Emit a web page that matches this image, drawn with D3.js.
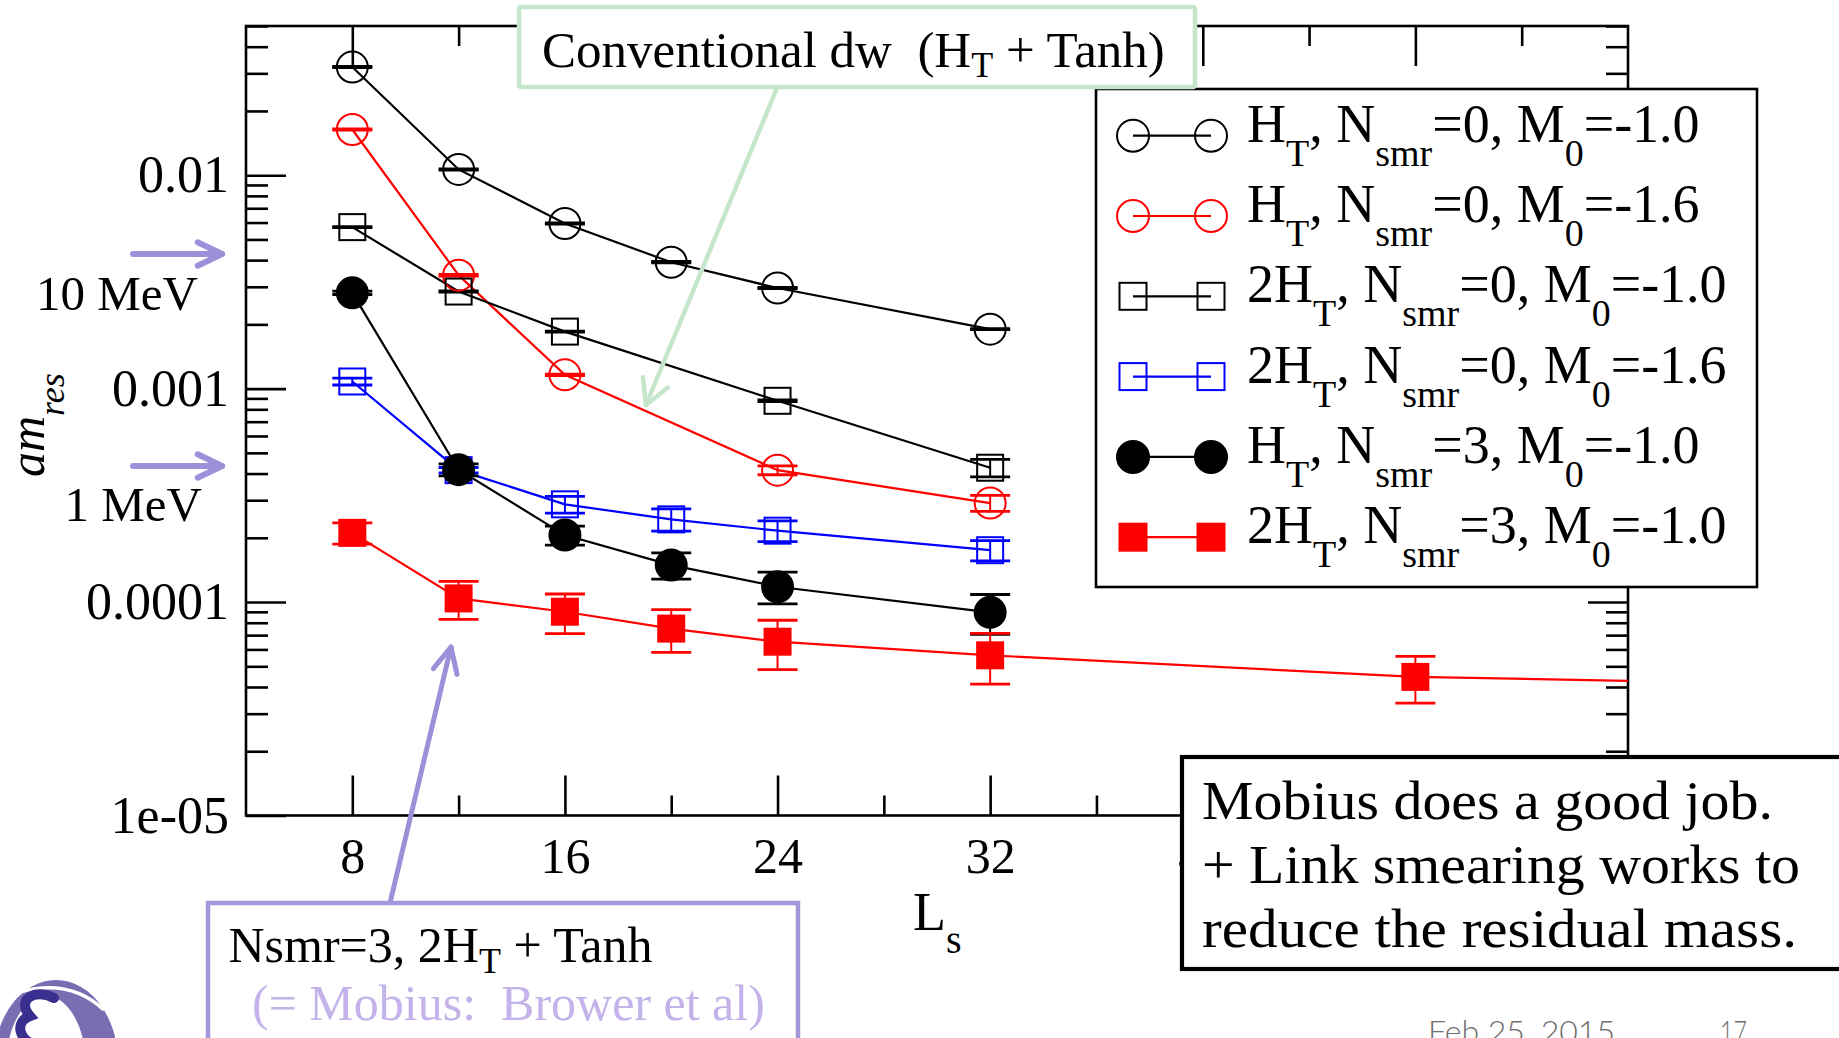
<!DOCTYPE html>
<html>
<head>
<meta charset="utf-8">
<script src="https://cdn.jsdelivr.net/npm/d3@7"></script>
<style>
  body { margin: 0; background: #fff; }
  svg { display: block; }
  text { font-family: "Liberation Serif", "Times New Roman", serif; fill: #000; }
</style>
</head>
<body>
<svg id="chart" width="1839" height="1038"></svg>
<script>
// Residual mass am_res versus fifth-dimension extent L_s for six kernel setups

// H_T, N_smr=0, M_0=-1.0
const lsA   = [8, 12, 16, 20, 24, 32];
const mresA = [0.0321, 0.01064, 0.00594, 0.00391, 0.00296, 0.00190];
const errA  = [0.0002, 0.00007, 0.00004, 0.00003, 0.00002, 0.000012];

// H_T, N_smr=0, M_0=-1.6
const lsB   = [8, 12, 16, 24, 32];
const mresB = [0.01637, 0.00340, 0.00116, 0.000415, 0.000291];
const errB  = [0.0001, 0.00003, 0.00001, 0.00002, 0.000025];

// 2H_T, N_smr=0, M_0=-1.0
const lsC   = [8, 12, 16, 24, 32];
const mresC = [0.00571, 0.00285, 0.00185, 0.000877, 0.000426];
const errC  = [0.00003, 0.00002, 0.00001, 0.000008, 0.00004];

// 2H_T, N_smr=0, M_0=-1.6
const lsD   = [8, 12, 16, 20, 24, 32];
const mresD = [0.00108, 0.000415, 0.000287, 0.000244, 0.000216, 0.000175];
const errD  = [0.00004, 0.000012, 0.000026, 0.000029, 0.000024, 0.000019];

// H_T, N_smr=3, M_0=-1.0
const lsE   = [8, 12, 16, 20, 24, 32];
const mresE = [0.00281, 0.000417, 0.000206, 0.000149, 0.000118, 0.0000895];
const errE  = [0.00005, 0.000027, 0.000021, 0.000021, 0.00002, 0.000019];

// 2H_T, N_smr=3, M_0=-1.0 (Mobius)
const lsF   = [8, 12, 16, 20, 24, 32, 48, 64];
const mresF = [0.000211, 0.000104, 0.0000901, 0.0000751, 0.0000652, 0.0000563, 0.0000446, 0.0000410];
const errF  = [0.000024, 0.000021, 0.000019, 0.000017, 0.000017, 0.000015, 0.000011, 0.00001];

// Legend labels: kernel prefix, N_smr, M_0
const kernelPrefix = ["", "", "2", "2", "", "2"];
const nsmrLabels   = ["0", "0", "0", "0", "3", "3"];
const m0Labels     = ["-1.0", "-1.6", "-1.0", "-1.6", "-1.0", "-1.0"];

// Axis ticks
const xMajorTicks = [8, 16, 24, 32, 40, 48];
const xMinorTicks = [12, 20, 28, 36, 44, 52];
const xTickLabels = ["8", "16", "24", "32", "40", "48"];
const yMajorTicks = [1e-5, 1e-4, 1e-3, 1e-2];
const yTickLabels = ["1e-05", "0.0001", "0.001", "0.01"];
const yMinorTicks = [];
[-5, -4, -3, -2].forEach(k => {
  for (let m = 2; m <= 9; m++) {
    const v = m * Math.pow(10, k);
    if (v <= 0.05) yMinorTicks.push(v);
  }
});

const seriesData = [
  { ls: lsA, v: mresA, e: errA },
  { ls: lsB, v: mresB, e: errB },
  { ls: lsC, v: mresC, e: errC },
  { ls: lsD, v: mresD, e: errD },
  { ls: lsE, v: mresE, e: errE },
  { ls: lsF, v: mresF, e: errF }
];
const seriesStyle = [
  { color: "#000000", shape: "circle", filled: false },
  { color: "#ff0000", shape: "circle", filled: false },
  { color: "#000000", shape: "square", filled: false },
  { color: "#0000ff", shape: "square", filled: false },
  { color: "#000000", shape: "circle", filled: true },
  { color: "#ff0000", shape: "square", filled: true }
];

const svg = d3.select("#chart");
const L = 246, R = 1628, T = 26, B = 815.5;

const x = d3.scaleLinear().domain([4, 56]).range([L, R]);
const y = d3.scaleLog().domain([1e-5, 0.05]).range([B, T]);

svg.append("defs").append("clipPath").attr("id", "plotclip")
  .append("rect").attr("x", L).attr("y", T).attr("width", R - L).attr("height", B - T);

// ---- axes (inward ticks on all four sides) ----
function styleAxis(g, fontSize) {
  g.select(".domain").remove();
  g.selectAll(".tick line").attr("stroke", "#000").attr("stroke-width", 2.6);
  g.selectAll(".tick text").filter(function () { return this.textContent === ""; }).remove();
  g.selectAll(".tick text")
    .attr("fill", "#000")
    .style("font-family", '"Liberation Serif", "Times New Roman", serif')
    .style("font-size", fontSize + "px");
}
const axes = svg.append("g");
axes.append("g").attr("transform", `translate(${L},0)`)
  .call(d3.axisLeft(y).tickValues(yMajorTicks).tickSize(-40).tickPadding(17)
        .tickFormat((d, i) => yTickLabels[i]))
  .call(g => styleAxis(g, 52));
axes.append("g").attr("transform", `translate(${L},0)`)
  .call(d3.axisLeft(y).tickValues(yMinorTicks).tickSize(-22).tickFormat(""))
  .call(g => styleAxis(g, 10));
axes.append("g").attr("transform", `translate(${R},0)`)
  .call(d3.axisRight(y).tickValues(yMajorTicks).tickSize(-40).tickFormat(""))
  .call(g => styleAxis(g, 10));
axes.append("g").attr("transform", `translate(${R},0)`)
  .call(d3.axisRight(y).tickValues(yMinorTicks).tickSize(-22).tickFormat(""))
  .call(g => styleAxis(g, 10));
axes.append("g").attr("transform", `translate(0,${B})`)
  .call(d3.axisBottom(x).tickValues(xMajorTicks).tickSize(-40).tickPadding(22)
        .tickFormat((d, i) => xTickLabels[i]))
  .call(g => styleAxis(g, 50));
axes.append("g").attr("transform", `translate(0,${B})`)
  .call(d3.axisBottom(x).tickValues(xMinorTicks).tickSize(-20).tickFormat(""))
  .call(g => styleAxis(g, 10));
axes.append("g").attr("transform", `translate(0,${T})`)
  .call(d3.axisTop(x).tickValues(xMajorTicks).tickSize(-40).tickFormat(""))
  .call(g => styleAxis(g, 10));
axes.append("g").attr("transform", `translate(0,${T})`)
  .call(d3.axisTop(x).tickValues(xMinorTicks).tickSize(-20).tickFormat(""))
  .call(g => styleAxis(g, 10));

svg.append("rect").attr("x", L).attr("y", T).attr("width", R - L).attr("height", B - T)
  .attr("fill", "none").attr("stroke", "#000").attr("stroke-width", 2.6);

// ---- markers ----
function drawMarker(g, cx, cy, st, size) {
  if (st.shape === "circle") {
    g.append("circle").attr("cx", cx).attr("cy", cy).attr("r", size.r)
      .attr("fill", st.filled ? st.color : "none")
      .attr("stroke", st.color).attr("stroke-width", 2);
  } else {
    const h = size.h;
    g.append("rect").attr("x", cx - h).attr("y", cy - h).attr("width", 2 * h).attr("height", 2 * h)
      .attr("fill", st.filled ? st.color : "none")
      .attr("stroke", st.color).attr("stroke-width", 2);
  }
}

// ---- data ----
const plot = svg.append("g").attr("clip-path", "url(#plotclip)");
const line = d3.line().x(d => x(d[0])).y(d => y(d[1]));

seriesData.forEach((s, i) => {
  const st = seriesStyle[i];
  const pts = s.ls.map((l, j) => [l, s.v[j], s.e[j]]);
  plot.append("path").datum(pts).attr("d", line)
    .attr("fill", "none").attr("stroke", st.color).attr("stroke-width", 2.2);
});

seriesData.forEach((s, i) => {
  const st = seriesStyle[i];
  const g = plot.append("g");
  s.ls.forEach((l, j) => {
    const cx = x(l);
    const yt = y(s.v[j] + s.e[j]);
    const yb = y(s.v[j] - s.e[j]);
    g.append("line").attr("x1", cx).attr("x2", cx).attr("y1", yt).attr("y2", yb)
      .attr("stroke", st.color).attr("stroke-width", 2);
    [yt, yb].forEach(yy => {
      g.append("line").attr("x1", cx - 20).attr("x2", cx + 20).attr("y1", yy).attr("y2", yy)
        .attr("stroke", st.color).attr("stroke-width", 2.8);
    });
  });
});

seriesData.forEach((s, i) => {
  const st = seriesStyle[i];
  const g = plot.append("g");
  s.ls.forEach((l, j) => drawMarker(g, x(l), y(s.v[j]), st, { r: 15.5, h: 13 }));
});

// ---- text with subscripts ----
function richText(g, tx, ty, parts, o) {
  const t = g.append("text").attr("x", tx).attr("y", ty)
    .attr("font-size", o.size).style("white-space", "pre");
  if (o.fill) t.attr("fill", o.fill).style("fill", o.fill);
  if (o.italic) t.attr("font-style", "italic");
  let shift = 0;
  parts.forEach(([str, sub]) => {
    const target = sub ? o.subShift : 0;
    t.append("tspan").attr("dy", target - shift)
      .attr("font-size", sub ? o.subSize : o.size).text(str);
    shift = target;
  });
  return t;
}

// ---- legend ----
const leg = svg.append("g");
leg.append("rect").attr("x", 1096).attr("y", 89).attr("width", 661).attr("height", 498)
  .attr("fill", "#fff").attr("stroke", "#000").attr("stroke-width", 2.6);
seriesStyle.forEach((st, i) => {
  const cy = 135.7 + i * 80.3;
  leg.append("line").attr("x1", 1133).attr("x2", 1211).attr("y1", cy).attr("y2", cy)
    .attr("stroke", st.color).attr("stroke-width", 2.2);
  drawMarker(leg, 1133, cy, st, { r: 16, h: 13.5 });
  drawMarker(leg, 1211, cy, st, { r: 16, h: 13.5 });
  richText(leg, 1247, cy + 6, [
    [kernelPrefix[i] + "H", false], ["T", true], [", N", false], ["smr", true],
    ["=" + nsmrLabels[i] + ", M", false], ["0", true], ["=" + m0Labels[i], false]
  ], { size: 54, subSize: 38, subShift: 24 });
});

// ---- axis titles ----
richText(svg.append("g").attr("transform", "translate(44,477) rotate(-90)"), 0, 0,
  [["am", false], ["res", true]], { size: 50, subSize: 36, subShift: 20, italic: true });
richText(svg.append("g"), 913, 930, [["L", false], ["s", true]],
  { size: 54, subSize: 40, subShift: 23 });

// ---- annotations ----
function arrow(g, x1, y1, x2, y2, color, w, head, ang) {
  g.append("line").attr("x1", x1).attr("y1", y1).attr("x2", x2).attr("y2", y2)
    .attr("stroke", color).attr("stroke-width", w).attr("stroke-linecap", "round");
  const a = Math.atan2(y1 - y2, x1 - x2);
  const p1 = [x2 + head * Math.cos(a + ang), y2 + head * Math.sin(a + ang)];
  const p2 = [x2 + head * Math.cos(a - ang), y2 + head * Math.sin(a - ang)];
  g.append("path").attr("d", `M${p1[0]},${p1[1]} L${x2},${y2} L${p2[0]},${p2[1]}`)
    .attr("fill", "none").attr("stroke", color).attr("stroke-width", w)
    .attr("stroke-linecap", "round").attr("stroke-linejoin", "round");
}
const ann = svg.append("g");
const green = "#c6e6cb", lavender = "#9d90d8";

// conventional domain-wall callout
arrow(ann, 777, 88, 646, 405, green, 4.5, 28, 0.5);
ann.append("rect").attr("x", 519).attr("y", 7).attr("width", 676).attr("height", 80).attr("rx", 2)
  .attr("fill", "#fff").attr("stroke", green).attr("stroke-width", 4.5);
richText(ann, 542, 67, [["Conventional dw  (H", false], ["T", true], [" + Tanh)", false]],
  { size: 51, subSize: 36, subShift: 10 });

// energy reference arrows
arrow(ann, 133, 254, 222, 254, lavender, 6, 27, 0.45);
arrow(ann, 133, 466, 222, 466, lavender, 6, 27, 0.45);
ann.append("text").attr("x", 198).attr("y", 310).attr("text-anchor", "end")
  .attr("font-size", 49).text("10 MeV");
ann.append("text").attr("x", 202).attr("y", 521).attr("text-anchor", "end")
  .attr("font-size", 49).text("1 MeV");

// Mobius callout
arrow(ann, 390, 903, 451, 647, lavender, 5, 28, 0.45);
ann.append("rect").attr("x", 208).attr("y", 903).attr("width", 590).attr("height", 200)
  .attr("fill", "#fff").attr("stroke", "#a596dc").attr("stroke-width", 4.5);
richText(ann, 228.5, 962, [["Nsmr=3, 2H", false], ["T", true], [" + Tanh", false]],
  { size: 50, subSize: 36, subShift: 11 });
ann.append("text").attr("x", 252).attr("y", 1020).attr("font-size", 50)
  .style("white-space", "pre").style("fill", "#c4b3ea")
  .text("(= Mobius:  Brower et al)");

// summary box
ann.append("rect").attr("x", 1182).attr("y", 757).attr("width", 720).attr("height", 212)
  .attr("fill", "#fff").attr("stroke", "#000").attr("stroke-width", 4.2);
const summary = ["Mobius does a good job.", "+ Link smearing works to", "reduce the residual mass."];
const summaryLen = [571, 598, 595];
summary.forEach((s, i) => {
  ann.append("text").attr("x", 1202).attr("y", 819 + i * 64).attr("font-size", 55)
    .attr("textLength", summaryLen[i]).attr("lengthAdjust", "spacingAndGlyphs").text(s);
});

// footer
const foot = svg.append("g");
foot.append("text").attr("x", 1428).attr("y", 1043).attr("font-size", 32)
  .style("font-family", "Lato, 'Open Sans', sans-serif").style("font-weight", 300)
  .style("fill", "#6e6e6e").attr("textLength", 187).attr("lengthAdjust", "spacingAndGlyphs")
  .text("Feb 25, 2015");
foot.append("text").attr("x", 1720).attr("y", 1043).attr("font-size", 32)
  .style("font-family", "Lato, 'Open Sans', sans-serif").style("font-weight", 300)
  .style("fill", "#6e6e6e").attr("textLength", 27).attr("lengthAdjust", "spacingAndGlyphs")
  .text("17");

// logo mark
const logo = svg.append("g");
logo.append("ellipse").attr("cx", 56).attr("cy", 1062).attr("rx", 62).attr("ry", 82).attr("fill", "#7a6db2");
logo.append("ellipse").attr("cx", 46).attr("cy", 1066).attr("rx", 40).attr("ry", 70).attr("fill", "#fff");
logo.append("path").attr("d", "M20,992 Q70,978 104,1010").attr("fill", "none")
  .attr("stroke", "#fff").attr("stroke-width", 3.5);
logo.append("path")
  .attr("d", "M54,998 C34,988 16,1000 30,1016 C14,1022 18,1042 40,1046")
  .attr("fill", "none").attr("stroke", "#3a2f8e").attr("stroke-width", 10).attr("stroke-linecap", "round");
</script>
</body>
</html>
